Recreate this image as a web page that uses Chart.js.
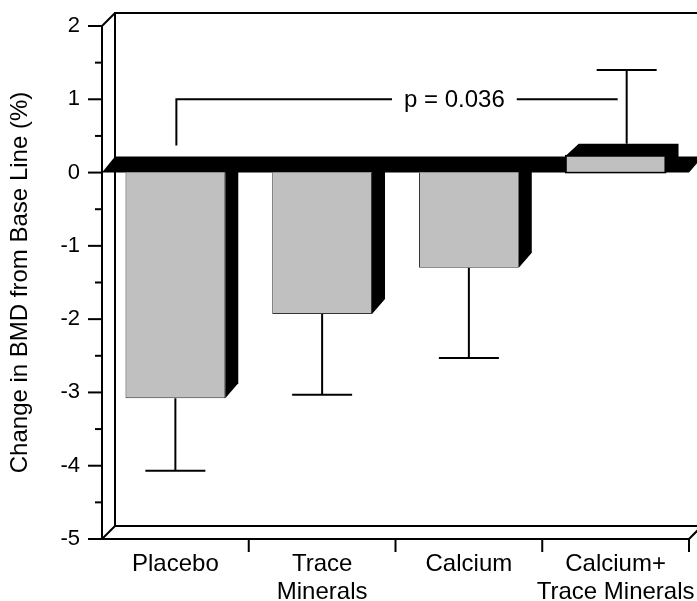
<!DOCTYPE html>
<html>
<head>
<meta charset="utf-8">
<script src="https://cdn.jsdelivr.net/npm/chart.js@4.4.1/dist/chart.umd.min.js"></script>
<style>
  html, body { margin: 0; padding: 0; background: #fff; }
</style>
</head>
<body>
<canvas id="grapheBMD" width="697" height="601"></canvas>
<script>
// --------------------------------------------------------------------------
//   Données
// --------------------------------------------------------------------------
const categories  = [['Placebo'], ['Trace', 'Minerals'], ['Calcium'], ['Calcium+', 'Trace Minerals']];
const changeBMD   = [-3.08, -1.93, -1.30, 0.23];   // % de variation
const ecartType   = [0.99, 1.10, 1.23, 1.02];      // barres d'erreur
const yMin = -5, yMax = 2, yPas = 1;
const texteP      = 'p = 0.036';
const niveauCrochet = 1.0;   // hauteur du crochet
const piedCrochet   = 0.37;  // bas de la patte gauche
const posTexteP     = 0.63;  // position du texte le long du crochet

const FONTE = '"Liberation Sans", Arial, sans-serif';

// profondeur "3D"
const CADRE = 13;          // décalage du cadre arrière
const PX = 13, PY = 15;    // décalage des barres et de la dalle zéro
const CAPE = 30;           // demi-largeur des capuchons

function ligne(ctx, pts) {
    ctx.beginPath();
    ctx.moveTo(pts[0][0], pts[0][1]);
    for (let i = 1; i < pts.length; i++) ctx.lineTo(pts[i][0], pts[i][1]);
    ctx.stroke();
}
function poly(ctx, pts) {
    ctx.beginPath();
    ctx.moveTo(pts[0][0], pts[0][1]);
    for (let i = 1; i < pts.length; i++) ctx.lineTo(pts[i][0], pts[i][1]);
    ctx.closePath();
    ctx.fill();
}

const effet3D = {
    id: 'effet3D',
    beforeDatasetsDraw(chart) {
        const { ctx, chartArea: a, scales: { y } } = chart;
        const W = chart.width + 10;
        ctx.save();
        ctx.strokeStyle = '#000';
        ctx.fillStyle = '#000';
        ctx.lineWidth = 2;
        ctx.lineCap = 'butt';

        // cadre arrière
        ligne(ctx, [[a.left + CADRE, a.bottom - CADRE], [a.left + CADRE, a.top - CADRE], [W, a.top - CADRE]]);
        ligne(ctx, [[a.left + CADRE, a.bottom - CADRE], [W, a.bottom - CADRE]]);
        // axes avant
        ligne(ctx, [[a.left, a.top], [a.left, a.bottom], [a.right, a.bottom], [a.right + CADRE, a.bottom - CADRE]]);
        ligne(ctx, [[a.left, a.top], [a.left + CADRE, a.top - CADRE]]);
        ligne(ctx, [[a.left, a.bottom], [a.left + CADRE, a.bottom - CADRE]]);

        // graduations Y (majeures + mineures)
        for (let v = yMin; v <= yMax + 1e-9; v += 0.5) {
            const py = y.getPixelForValue(v);
            const long = Number.isInteger(v) ? 14 : 7;
            ligne(ctx, [[a.left - long, py], [a.left, py]]);
        }
        // graduations X entre catégories
        const pas = a.width / categories.length;
        for (let i = 1; i <= categories.length; i++) {
            const px = a.left + i * pas;
            ligne(ctx, [[px, a.bottom], [px, a.bottom + 13]]);
        }

        // dalle du zéro
        const y0 = y.getPixelForValue(0);
        poly(ctx, [[a.left, y0], [a.right, y0], [a.right + PX, y0 - PY], [W, y0 - PY], [W, y0 - PY - 1],
                   [a.left + PX, y0 - PY - 1]]);
        ctx.restore();
    },
    afterDatasetsDraw(chart) {
        const { ctx, scales: { y } } = chart;
        const meta = chart.getDatasetMeta(0);
        const y0 = y.getPixelForValue(0);
        ctx.save();
        ctx.strokeStyle = '#000';
        ctx.fillStyle = '#000';
        ctx.lineWidth = 2;

        let tigeDerniere = null;
        meta.data.forEach((el, i) => {
            const v = changeBMD[i];
            const xG = el.x - el.width / 2, xD = el.x + el.width / 2;
            if (v < 0) {
                // face latérale
                poly(ctx, [[xD, y0], [xD + PX, y0 - PY], [xD + PX, el.y - PY], [xD, el.y]]);
                // barre d'erreur vers le bas
                const yb = y.getPixelForValue(v - ecartType[i]);
                ligne(ctx, [[el.x, el.y], [el.x, yb]]);
                ligne(ctx, [[el.x - CAPE, yb], [el.x + CAPE, yb]]);
            } else {
                // dessus et côté
                poly(ctx, [[xG, el.y], [xG + PX, el.y - PY + 3], [xD + PX, el.y - PY + 3], [xD + PX, y0 - PY], [xD, y0], [xD, el.y]]);
                ctx.lineWidth = 1.5;
                ctx.strokeRect(xG, el.y, el.width, y0 - el.y);
                ctx.lineWidth = 2;
                // barre d'erreur vers le haut, plan arrière
                const dx = PX * 0.85, dy = PX * 0.85;
                const yh = y.getPixelForValue(v + ecartType[i]) - dy;
                ligne(ctx, [[el.x + dx, el.y - PY + 3], [el.x + dx, yh]]);
                ligne(ctx, [[el.x + dx - CAPE, yh], [el.x + dx + CAPE, yh]]);
                tigeDerniere = el.x + dx;
            }
        });

        // crochet de significativité
        const xGauche = meta.data[0].x + 1;
        const xDroite = tigeDerniere - 9;
        const yC = y.getPixelForValue(niveauCrochet);
        ctx.font = '24px ' + FONTE;
        ctx.textAlign = 'center';
        ctx.textBaseline = 'middle';
        const xT = xGauche + (xDroite - xGauche) * posTexteP;
        const demi = ctx.measureText(texteP).width / 2 + 12;
        ligne(ctx, [[xGauche, y.getPixelForValue(piedCrochet)], [xGauche, yC], [xT - demi, yC]]);
        ligne(ctx, [[xT + demi, yC], [xDroite, yC]]);
        ctx.fillText(texteP, xT, yC + 1);
        ctx.restore();
    }
};

const ctx = document.getElementById('grapheBMD');

const monGraphique = new Chart(ctx, {
    type: 'bar',
    data: {
        labels: categories,
        datasets: [{
            data: changeBMD,
            backgroundColor: '#c0c0c0',
            borderColor: '#333',
            borderWidth: 1,
            barPercentage: 0.68,
            categoryPercentage: 1.0
        }]
    },
    options: {
        responsive: false,
        animation: false,
        devicePixelRatio: 1,
        layout: { padding: { top: 26, right: 8, left: 0, bottom: 0 } },
        plugins: {
            legend: { display: false },
            tooltip: { enabled: false }
        },
        scales: {
            x: {
                grid: { display: false },
                border: { display: false },
                ticks: {
                    color: '#000',
                    padding: 3,
                    maxRotation: 0,
                    autoSkip: false,
                    font: { family: FONTE, size: 24, lineHeight: 1.17 }
                },
                afterFit(scale) {
                    scale.height = 62;
                    scale.paddingLeft = 0;
                    scale.paddingRight = 0;
                }
            },
            y: {
                min: yMin,
                max: yMax,
                grid: { display: false, drawTicks: false },
                border: { display: false },
                ticks: {
                    stepSize: yPas,
                    color: '#000',
                    padding: 22,
                    font: { family: FONTE, size: 22 }
                },
                title: {
                    display: true,
                    text: 'Change in BMD from Base Line (%)',
                    color: '#000',
                    padding: { top: 6, bottom: 0 },
                    font: { family: FONTE, size: 24, lineHeight: 1.2 }
                },
                afterFit(scale) {
                    scale.width = 102;
                    scale.paddingTop = 0;
                    scale.paddingBottom = 0;
                }
            }
        }
    },
    plugins: [effet3D]
});
</script>
</body>
</html>
